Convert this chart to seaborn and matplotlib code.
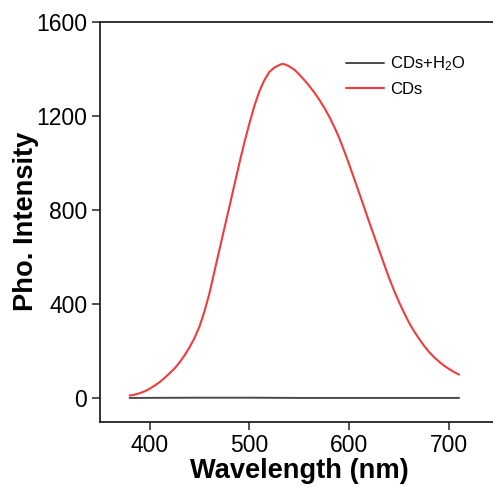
import matplotlib
matplotlib.use("Agg")
import matplotlib.pyplot as plt
import seaborn as sns
import pandas as pd

# Data
cds_wl = [380, 385, 390, 395, 400, 405, 410, 415, 420, 425, 430, 435, 440, 445, 450,
          455, 460, 465, 470, 475, 480, 485, 490, 495, 500, 505, 510, 515, 520, 525,
          530, 533, 536, 540, 545, 550, 555, 560, 565, 570, 575, 580, 585, 590, 595,
          600, 605, 610, 615, 620, 625, 630, 635, 640, 645, 650, 655, 660, 665, 670,
          675, 680, 685, 690, 695, 700, 705, 710]
cds_int = [11, 15, 21, 29, 40, 53, 68, 86, 106, 126, 152, 182, 216, 256, 305,
           370, 447, 540, 632, 724, 815, 908, 1000, 1088, 1168, 1243, 1305, 1352, 1387, 1405,
           1416, 1421, 1418, 1410, 1396, 1375, 1352, 1327, 1299, 1268, 1234, 1196, 1153, 1105, 1050,
           992, 932, 871, 810, 748, 688, 628, 568, 510, 456, 407, 362, 320, 284, 252,
           222, 196, 174, 155, 138, 124, 111, 100]

h2o_wl = [380, 450, 500, 550, 600, 650, 710]
h2o_int = [1, 2, 2, 1, 1, 1, 1]

sns.set_theme(style="ticks")
plt.rcParams['font.family'] = ['Liberation Sans', 'DejaVu Sans']
plt.rcParams['mathtext.fontset'] = 'custom'
plt.rcParams['mathtext.rm'] = 'Liberation Sans'
plt.rcParams['mathtext.it'] = 'Liberation Sans'

fig = plt.figure(figsize=(4.93, 4.86), dpi=100)
ax = fig.add_axes([99.7/493, (486-421.7)/486, (499-99.7)/493, (421.7-21.7)/486])

df_h2o = pd.DataFrame({"wl": h2o_wl, "I": h2o_int})
df_cds = pd.DataFrame({"wl": cds_wl, "I": cds_int})
sns.lineplot(data=df_h2o, x="wl", y="I", ax=ax, color="#4a4a4a", lw=1.4,
             label="CDs+H$_2$O")
sns.lineplot(data=df_cds, x="wl", y="I", ax=ax, color="#f03c3c", lw=1.5,
             label="CDs")

ax.set_xlim(350, 750)
ax.set_ylim(-100, 1600)
ax.set_xticks([400, 500, 600, 700])
ax.set_yticks([0, 400, 800, 1200, 1600])
ax.tick_params(axis='both', direction='out', length=6, width=1.1,
               labelsize=16.5, colors='#222222', labelcolor='black', pad=3)
ax.tick_params(axis='x', pad=3)
for s in ax.spines.values():
    s.set_linewidth(1.3)
    s.set_color('#222222')
ax.set_xlabel("Wavelength (nm)", fontsize=19.6, fontweight='bold', labelpad=0.5,
              color='black')
ax.set_ylabel("Pho. Intensity", fontsize=19.6, fontweight='bold', labelpad=-2,
              color='black')

leg = ax.legend(loc='upper left', bbox_to_anchor=(0.60, 0.935), frameon=False,
                fontsize=12, handlelength=2.3, handletextpad=0.35, labelspacing=0.55,
                borderaxespad=0)
for t in leg.get_texts():
    t.set_color('black')

fig.savefig("out.png", dpi=100)
